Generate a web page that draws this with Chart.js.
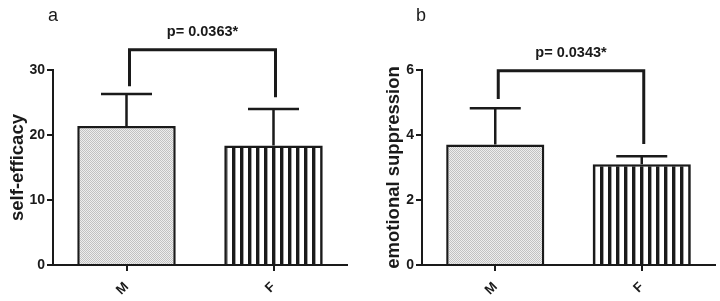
<!DOCTYPE html>
<html>
<head>
<meta charset="utf-8">
<script src="https://cdn.jsdelivr.net/npm/chart.js@4/dist/chart.umd.min.js"></script>
<style>
  html, body { margin: 0; padding: 0; background: #fff; }
  #wrap { position: relative; width: 720px; height: 301px; }
  canvas { position: absolute; top: 0; }
</style>
</head>
<body>
<div id="wrap">
  <canvas id="graficoA" width="360" height="301" style="left:0"></canvas>
  <canvas id="graficoB" width="360" height="301" style="left:360px"></canvas>
</div>
<script>
// Dados
const grupos = ['M', 'F'];

const autoeficacia = [21.4, 18.4];      // médias
const autoeficaciaDP = [4.9, 5.6];      // barra de erro (só para cima)
const ticksA = [0, 10, 20, 30];
const chaveA = [33.1, 27.5, 25.8];      // topo da chave, ponta esquerda, ponta direita
const textoA = 'p= 0.0363*';

const supressao = [3.71, 3.10];
const supressaoDP = [1.11, 0.25];
const ticksB = [0, 2, 4, 6];
const chaveB = [5.98, 5.11, 3.72];
const textoB = 'p= 0.0343*';

const PRETO = '#1a1a1a';
const FONTE = '"Liberation Sans", Arial, sans-serif';

// padrão pontilhado cinza (barra M)
function padraoPontos() {
    const c = document.createElement('canvas');
    c.width = 2; c.height = 2;
    const g = c.getContext('2d');
    g.fillStyle = '#eeeeee'; g.fillRect(0, 0, 2, 2);
    g.fillStyle = '#c2c2c2'; g.fillRect(0, 0, 1, 1); g.fillRect(1, 1, 1, 1);
    return g.createPattern(c, 'repeat');
}

// padrão de listras verticais (barra F)
function padraoListras() {
    const c = document.createElement('canvas');
    c.width = 8; c.height = 4;
    const g = c.getContext('2d');
    g.fillStyle = '#ffffff'; g.fillRect(0, 0, 8, 4);
    g.fillStyle = PRETO; g.fillRect(0, 0, 3.4, 4);
    return g.createPattern(c, 'repeat');
}

// barras de erro + chave de significância
const extras = {
    id: 'extras',
    afterDatasetsDraw(chart, args, opts) {
        const { ctx, scales: { x, y } } = chart;
        ctx.save();
        ctx.strokeStyle = PRETO;
        ctx.lineCap = 'butt';
        ctx.lineWidth = 2.5;
        opts.medias.forEach((m, i) => {
            const cx = x.getPixelForValue(i);
            const y0 = y.getPixelForValue(m);
            const y1 = y.getPixelForValue(m + opts.dp[i]);
            ctx.beginPath();
            ctx.moveTo(cx, y0); ctx.lineTo(cx, y1);
            ctx.moveTo(cx - 25.5, y1); ctx.lineTo(cx + 25.5, y1);
            ctx.stroke();
        });
        const xa = x.getPixelForValue(0) + 3;
        const xb = x.getPixelForValue(1) + 2;
        const yt = y.getPixelForValue(opts.chave[0]);
        ctx.lineWidth = 3;
        ctx.beginPath();
        ctx.moveTo(xa, y.getPixelForValue(opts.chave[1]));
        ctx.lineTo(xa, yt);
        ctx.lineTo(xb, yt);
        ctx.lineTo(xb, y.getPixelForValue(opts.chave[2]));
        ctx.stroke();
        ctx.fillStyle = PRETO;
        ctx.font = 'bold 14.5px ' + FONTE;
        ctx.textAlign = 'center';
        ctx.textBaseline = 'middle';
        ctx.fillText(opts.texto, (xa + xb) / 2, yt - 18);
        ctx.font = '18px ' + FONTE;
        ctx.textAlign = 'left';
        ctx.fillText(opts.letra, opts.letraX, 16);
        ctx.restore();
    }
};

function criaGrafico(id, dados, dp, ticks, chave, texto, titulo, letra, letraX, larguraY, tituloPad, dirPad) {
    const ctx = document.getElementById(id).getContext('2d');
    return new Chart(ctx, {
        type: 'bar',
        data: {
            labels: grupos,
            datasets: [{
                data: dados,
                backgroundColor: [padraoPontos(), padraoListras()],
                borderColor: PRETO,
                borderWidth: 2.5,
                barPercentage: 0.67,
                categoryPercentage: 1
            }]
        },
        options: {
            responsive: false,
            animation: false,
            layout: { padding: { top: 70, left: 0, right: dirPad, bottom: 0 } },
            plugins: {
                legend: { display: false },
                tooltip: { enabled: false },
                extras: { medias: dados, dp: dp, chave: chave, texto: texto, letra: letra, letraX: letraX }
            },
            scales: {
                x: {
                    grid: { offset: false, drawOnChartArea: false, color: PRETO, lineWidth: 2, tickLength: 6 },
                    border: { color: PRETO, width: 2 },
                    ticks: {
                        color: PRETO, minRotation: 45, maxRotation: 45, padding: 8,
                        font: { family: FONTE, size: 13.5, weight: 'bold' }
                    },
                    afterFit: s => { s.height = 36; }
                },
                y: {
                    min: ticks[0],
                    max: ticks[ticks.length - 1],
                    afterBuildTicks: s => { s.ticks = ticks.map(v => ({ value: v })); },
                    grid: { drawOnChartArea: false, color: PRETO, lineWidth: 2, tickLength: 6 },
                    border: { color: PRETO, width: 2 },
                    ticks: {
                        color: PRETO, padding: 2,
                        font: { family: FONTE, size: 14, weight: 'bold' }
                    },
                    title: {
                        display: true, text: titulo, color: PRETO,
                        padding: { top: tituloPad, bottom: 0 },
                        font: { family: FONTE, size: 18.5, weight: 'bold' }
                    },
                    afterFit: s => { s.width = larguraY; }
                }
            }
        },
        plugins: [extras]
    });
}

criaGrafico('graficoA', autoeficacia, autoeficaciaDP, ticksA, chaveA, textoA, 'self-efficacy', 'a', 48, 53, 7, 13);
criaGrafico('graficoB', supressao, supressaoDP, ticksB, chaveB, textoB, 'emotional suppression', 'b', 56, 62, 23, 5);
</script>
</body>
</html>
